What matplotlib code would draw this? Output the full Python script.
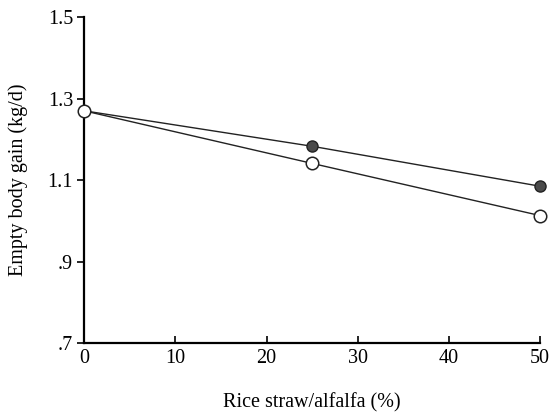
import numpy as np
import matplotlib
matplotlib.use("Agg")
import matplotlib.pyplot as plt

plt.rcParams['font.family'] = ['Liberation Serif', 'DejaVu Serif']

# data
straw_pct = [0, 25, 50]
gain_filled = [1.27, 1.183, 1.085]
gain_open = [1.27, 1.141, 1.013]

yticks = [0.7, 0.9, 1.1, 1.3, 1.5]
ytick_labels = ['.7', '.9', '1.1', '1.3', '1.5']
xticks = [0, 10, 20, 30, 40, 50]

fig = plt.figure(figsize=(5.5, 4.15), dpi=100)
ax = fig.add_axes([0.153, 0.173, 0.829, 0.786])

ax.plot(straw_pct, gain_filled, '-', color='#222222', lw=1.0,
        marker='o', ms=8, mfc='#4a4a4a', mec='#222222', mew=1.0, zorder=3)
ax.plot(straw_pct, gain_open, '-', color='#222222', lw=1.0,
        marker='o', ms=9, mfc='white', mec='#222222', mew=1.1, zorder=4)

ax.set_xlim(0, 50)
ax.set_ylim(0.7, 1.5)
ax.set_xticks(xticks)
ax.set_yticks(yticks)
ax.set_yticklabels(ytick_labels)
ax.spines['top'].set_visible(False)
ax.spines['right'].set_visible(False)
ax.spines['left'].set_linewidth(1.6)
ax.spines['bottom'].set_linewidth(1.6)
ax.tick_params(axis='y', direction='out', length=5, width=1.2, labelsize=14.5, pad=3)
ax.tick_params(axis='x', direction='in', length=5, width=1.2, labelsize=14.5, pad=4)
for sp in ax.spines.values():
    sp.set_clip_on(False)
for ln in ax.lines:
    ln.set_clip_on(False)

ax.set_xlabel('Rice straw/alfalfa (%)', fontsize=14.5, labelpad=18)
ax.set_ylabel('Empty body gain (kg/d)', fontsize=14.5, labelpad=14)

fig.savefig('out.png', dpi=100)
